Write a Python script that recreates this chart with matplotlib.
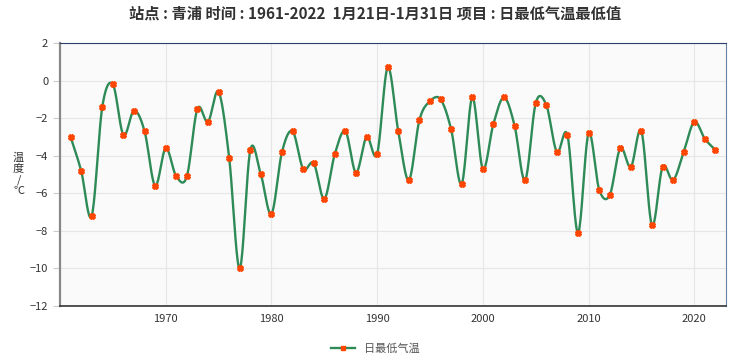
import matplotlib
matplotlib.use("Agg")
import matplotlib.pyplot as plt
import numpy as np

plt.rcParams['font.family'] = ['Noto Sans CJK SC', 'DejaVu Sans']

years = list(range(1961, 2023))
tmin = [-3.0, -4.8, -7.2, -1.4, -0.2, -2.9, -1.6, -2.7, -5.6, -3.6,
        -5.1, -5.1, -1.5, -2.2, -0.6, -4.1, -10.0, -3.7, -5.0, -7.1,
        -3.8, -2.7, -4.7, -4.4, -6.3, -3.9, -2.7, -4.9, -3.0, -3.9,
        0.7, -2.7, -5.3, -2.1, -1.1, -1.0, -2.6, -5.5, -0.9, -4.7,
        -2.3, -0.9, -2.4, -5.3, -1.2, -1.3, -3.8, -2.9, -8.1, -2.8,
        -5.8, -6.1, -3.6, -4.6, -2.7, -7.7, -4.6, -5.3, -3.8, -2.2,
        -3.1, -3.7]

title = "站点 : 青浦 时间 : 1961-2022  1月21日-1月31日 项目 : 日最低气温最低值"
series_name = "日最低气温"


def smooth(x, y, n=20):
    # cardinal (catmull-rom) spline through the points
    x = np.asarray(x, float)
    y = np.asarray(y, float)
    m = np.zeros_like(y)
    m[1:-1] = (y[2:] - y[:-2]) / (x[2:] - x[:-2])
    m[0] = y[1] - y[0]
    m[-1] = y[-1] - y[-2]
    xs, ys = [], []
    for i in range(len(x) - 1):
        t = np.linspace(0, 1, n, endpoint=False)
        h = x[i + 1] - x[i]
        h00 = 2 * t**3 - 3 * t**2 + 1
        h10 = t**3 - 2 * t**2 + t
        h01 = -2 * t**3 + 3 * t**2
        h11 = t**3 - t**2
        xs.append(x[i] + t * h)
        ys.append(h00 * y[i] + h10 * h * m[i] + h01 * y[i + 1] + h11 * h * m[i + 1])
    xs.append([x[-1]])
    ys.append([y[-1]])
    return np.concatenate(xs), np.concatenate(ys)


fig = plt.figure(figsize=(7.5, 3.6), dpi=100)
ax = fig.add_axes([0.08, 0.15, 0.888, 0.7306])
ax.set_facecolor("#fafafa")

sx, sy = smooth(years, tmin)
ax.plot(sx, sy, color="#2e8b57", lw=1.7, zorder=2)
ax.plot(years, tmin, linestyle="none", marker="X", color="#ff4500",
        markersize=4, zorder=3)
ax.plot([], [], color="#2e8b57", lw=1.7, marker="s", markersize=3.5,
        markerfacecolor="#ff4500", markeredgecolor="#ff4500", label=series_name)

ax.set_xlim(1960, 2023)
ax.set_ylim(-12, 2)
ax.set_yticks(np.arange(-12, 3, 2))
ax.set_xticks([1970, 1980, 1990, 2000, 2010, 2020])
ax.grid(True, color="#e6e6e6", lw=0.8)
ax.set_axisbelow(True)

ax.spines["left"].set_color("#888888")
ax.spines["left"].set_linewidth(1.6)
ax.spines["bottom"].set_color("#333333")
ax.spines["bottom"].set_linewidth(1.2)
ax.spines["top"].set_color("#2a3f6a")
ax.spines["right"].set_color("#6680a8")

ax.tick_params(axis="y", length=5, color="#cccccc", labelsize=8, labelcolor="#333333")
ax.tick_params(axis="x", length=0, labelsize=8, labelcolor="#333333", pad=6)

ax.set_ylabel("温\n度\n/\n℃", rotation=0, fontsize=8, color="#333333",
              labelpad=8, va="center", linespacing=1.1)

fig.suptitle(title, y=0.985, fontsize=11, fontweight="bold", color="#333333")
fig.legend(loc="lower center", bbox_to_anchor=(0.5, -0.01), frameon=False,
           fontsize=8, labelcolor="#555555", handlelength=2.2)

plt.savefig("out.png", dpi=100)
